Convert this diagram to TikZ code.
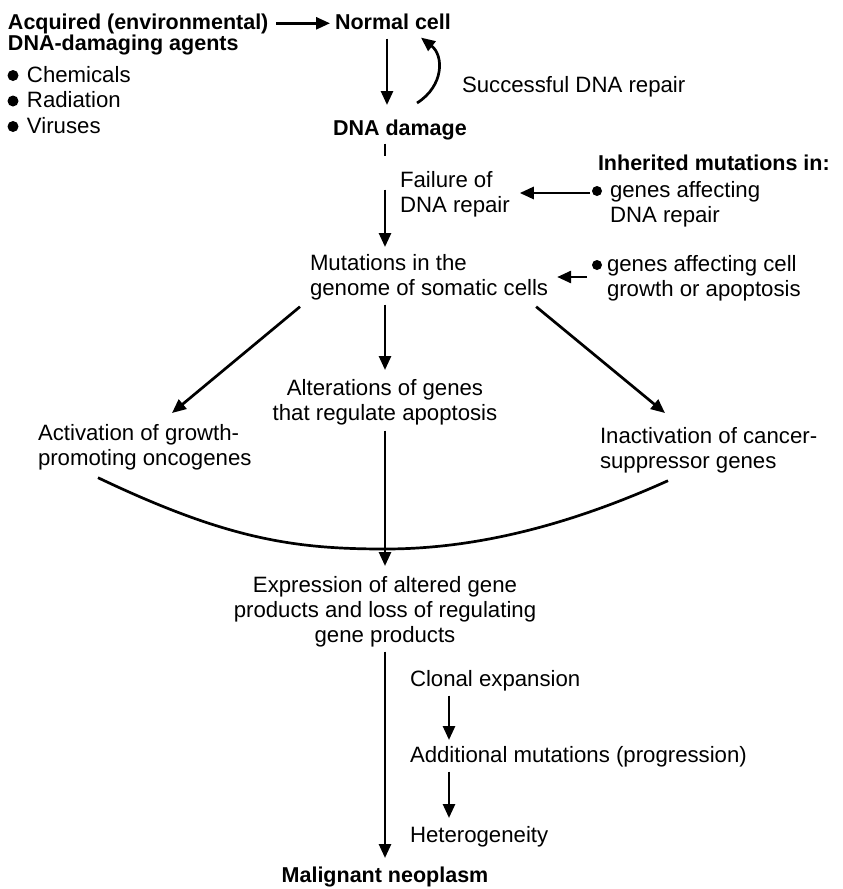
\documentclass[tikz,border=0pt]{standalone}
\usepackage{fontspec}
\setmainfont{Liberation Sans}
\usetikzlibrary{arrows.meta}
\begin{document}
\begin{tikzpicture}[x=1pt,y=-1pt,
  txt/.style={inner sep=0pt, outer sep=0pt, font=\fontsize{22.2}{25}\selectfont},
  bt/.style={inner sep=0pt, outer sep=0pt, font=\fontsize{21.5}{25}\selectfont\bfseries},
  sl/.style={text height=16pt, text depth=4.6pt},
  arr/.style={line width=2.7pt, -{Triangle[length=14pt,width=12pt]}},
  ln/.style={line width=2.7pt}]
\useasboundingbox (0,0) rectangle (843,889);

% left block
\node[bt, sl, anchor=base west] (acq) at (8,29) {Acquired (environmental)};
\node[bt, sl, anchor=base west] (dda) at (8,50) {DNA-damaging agents};
\node[txt, sl, anchor=base west] (chem) at (27,82) {Chemicals};
\node[txt, sl, anchor=base west] (rad) at (27,107.5) {Radiation};
\node[txt, sl, anchor=base west] (vir) at (27,133) {Viruses};
\fill (13,75.5) circle (5.5pt);
\fill (13,101) circle (5.5pt);
\fill (13,126.5) circle (5.5pt);

% top centre
\node[bt, sl, anchor=base west] (normal) at (335,29) {Normal cell};
\node[bt, sl, anchor=base west] (damage) at (333,135) {DNA damage};
\node[txt, sl, anchor=base west] (succ) at (462,92) {Successful DNA repair};

\draw[arr] ([xshift=8pt]acq.east) -- ([xshift=-5pt]normal.west |- acq.east);
\draw[arr] ([xshift=52pt,yshift=-5pt]normal.south west) -- ([xshift=54pt,yshift=14pt]damage.north west);
\draw[arr] ([xshift=84pt,yshift=16pt]damage.north west) .. controls +(27,-17) and +(23,18) .. ([xshift=86pt,yshift=-4pt]normal.south west);

% failure / inherited
\node[txt, align=left, anchor=north west] (fail) at (400,171) {Failure of\\DNA repair};
\node[bt, sl, anchor=base west] (inh) at (598,170) {Inherited mutations in:};
\node[txt, align=left, anchor=north west] (ga) at (610,181) {genes affecting\\DNA repair};
\fill (597,191) circle (5pt);
\node[txt, align=left, anchor=north west] (gc) at (607,255) {genes affecting cell\\growth or apoptosis};
\fill (597,265) circle (5pt);

\node[txt, align=left, anchor=north west] (mut) at (310,254) {Mutations in the\\genome of somatic cells};

\draw[ln] ([xshift=52pt,yshift=-4pt]damage.south west) -- ([xshift=52pt,yshift=-16pt]damage.south west);
\draw[arr] ([xshift=52pt,yshift=-50pt]damage.south west) -- ([xshift=75pt,yshift=7pt]mut.north west);
\draw[arr] ([xshift=-20pt,yshift=-12pt]ga.north west) -- ([xshift=10pt,yshift=-22pt]fail.north east);
\draw[arr] ([xshift=-20pt,yshift=-22pt]gc.north west) -- ([xshift=9pt,yshift=-23pt]mut.north east);

% three branches
\node[txt, align=center, anchor=north] (alt) at (385,379) {Alterations of genes\\that regulate apoptosis};
\node[txt, align=left, anchor=north west] (act) at (38,424) {Activation of growth-\\promoting oncogenes};
\node[txt, align=left, anchor=north west] (inact) at (600,427) {Inactivation of cancer-\\suppressor genes};

\draw[arr] ([xshift=-10pt,yshift=-7pt]mut.south west) -- ([xshift=134pt,yshift=11pt]act.north west);
\draw[arr] ([xshift=75pt,yshift=-5pt]mut.south west) -- ([yshift=9pt]alt.north);
\draw[arr] ([xshift=-12pt,yshift=-7pt]mut.south east) -- ([xshift=65pt,yshift=14pt]inact.north west);

% convergence
\node[txt, align=center, anchor=north] (expr) at (385,576) {Expression of altered gene\\products and loss of regulating\\gene products};
\coordinate (low) at (385,549);
\draw[ln] ([xshift=60pt,yshift=-8pt]act.south west) .. controls +(130,62) and +(-90,0) .. (low) .. controls +(90,0) and +(-100,45) .. ([xshift=68pt,yshift=-8pt]inact.south west);
\draw[arr] ([yshift=-6pt]alt.south) -- ([yshift=10pt]expr.north);

% bottom
\node[bt, sl, anchor=base] (mal) at (385,882) {Malignant neoplasm};
\node[txt, sl, anchor=base west] (clon) at (410,686) {Clonal expansion};
\node[txt, sl, anchor=base west] (add) at (410,762) {Additional mutations (progression)};
\node[txt, sl, anchor=base west] (het) at (410,842) {Heterogeneity};

\draw[arr] ([yshift=-5pt]expr.south) -- ([yshift=8pt]mal.north);
\draw[arr] ([xshift=39pt,yshift=-5pt]clon.south west) -- ([xshift=39pt,yshift=6pt]add.north west);
\draw[arr] ([xshift=39pt,yshift=-5pt]add.south west) -- ([xshift=39pt,yshift=8pt]het.north west);
\end{tikzpicture}
\end{document}
